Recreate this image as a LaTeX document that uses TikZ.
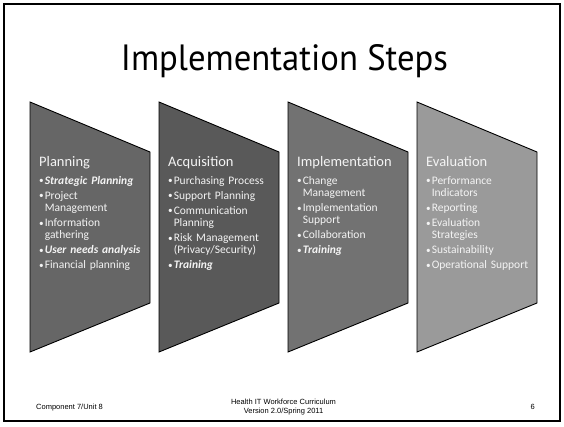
\documentclass[tikz,border=0pt]{standalone}
\usepackage{fontspec}
\setmainfont{Carlito}
\newfontfamily\titlefont{PT Sans}
\newfontfamily\footfont{Liberation Sans}

\definecolor{stepA}{HTML}{666666}
\definecolor{stepB}{HTML}{595959}
\definecolor{stepC}{HTML}{727272}
\definecolor{stepD}{HTML}{9A9A9A}
\definecolor{steptext}{HTML}{F4F4F4}

% one bullet item with a hanging indent; \newline breaks inside the item
\newcommand{\bul}[1]{\hangindent=5.6pt\hangafter=1\noindent\makebox[5.6pt][l]{\raisebox{0.4pt}{\scalebox{0.8}{\textbullet}}}#1\par}
\newcommand{\emitem}[1]{\textbf{\textit{#1}}}

\tikzset{
  stepshape/.style={draw=black, line width=0.9pt, line join=miter},
  stephead/.style={anchor=base west, inner sep=0pt, text=steptext, font=\fontsize{14.5}{17}\selectfont},
  steplist/.style={anchor=base west, inner sep=0pt, text=steptext, text width=112pt,
    font=\fontsize{11.5}{12.4}\selectfont\setlength{\parskip}{2.6pt}\raggedright},
  foot/.style={inner sep=0pt, font=\footfont\fontsize{7.5}{9}\selectfont}
}

% trapezoid step with its left edge at x = #1
\newcommand{\stepat}[2]{%
  \path[stepshape, fill=#2] (#1,102) -- (#1+120,152) -- (#1+120,303) -- (#1,352) -- cycle;}

\begin{document}
\begin{tikzpicture}[x=1pt,y=-1pt]
  \useasboundingbox (0,0) rectangle (564,426);
  \fill[white] (0,0) rectangle (564,426);

  % slide frame
  \draw[line width=2pt] (4,4) rectangle (560,421);

  % title
  \node[anchor=base, inner sep=0pt] (title) at (284.5,70)
    {\resizebox{327pt}{26pt}{\titlefont Implementation Steps}};

  % the four steps
  \stepat{30}{stepA}
  \stepat{159}{stepB}
  \stepat{288}{stepC}
  \stepat{417}{stepD}

  \node[stephead] (h1) at (39,166) {Planning};
  \node[steplist] (l1) at (39,184) {%
    \bul{\emitem{Strategic Planning}}
    \bul{Project\newline Management}
    \bul{Information\newline gathering}
    \bul{\emitem{User needs analysis}}
    \bul{Financial planning}};

  \node[stephead] (h2) at (168,166) {Acquisition};
  \node[steplist] (l2) at (168,184) {%
    \bul{Purchasing Process}
    \bul{Support Planning}
    \bul{Communication\newline Planning}
    \bul{Risk Management\newline (Privacy/Security)}
    \bul{\emitem{Training}}};

  \node[stephead] (h3) at (297,166) {Implementation};
  \node[steplist] (l3) at (297,184) {%
    \bul{Change\newline Management}
    \bul{Implementation\newline Support}
    \bul{Collaboration}
    \bul{\emitem{Training}}};

  \node[stephead] (h4) at (426,166) {Evaluation};
  \node[steplist] (l4) at (426,184) {%
    \bul{Performance\newline Indicators}
    \bul{Reporting}
    \bul{Evaluation\newline Strategies}
    \bul{Sustainability}
    \bul{Operational Support}};

  % footer
  \node[foot, anchor=base west] (f1) at (36,409) {Component 7/Unit 8};
  \node[foot, anchor=base] (f2) at (283.5,404) {Health IT Workforce Curriculum};
  \node[foot, anchor=base] (f2b) at (283.5,413) {Version 2.0/Spring 2011};
  \node[foot, anchor=base east] (f3) at (535,409) {6};
\end{tikzpicture}
\end{document}
